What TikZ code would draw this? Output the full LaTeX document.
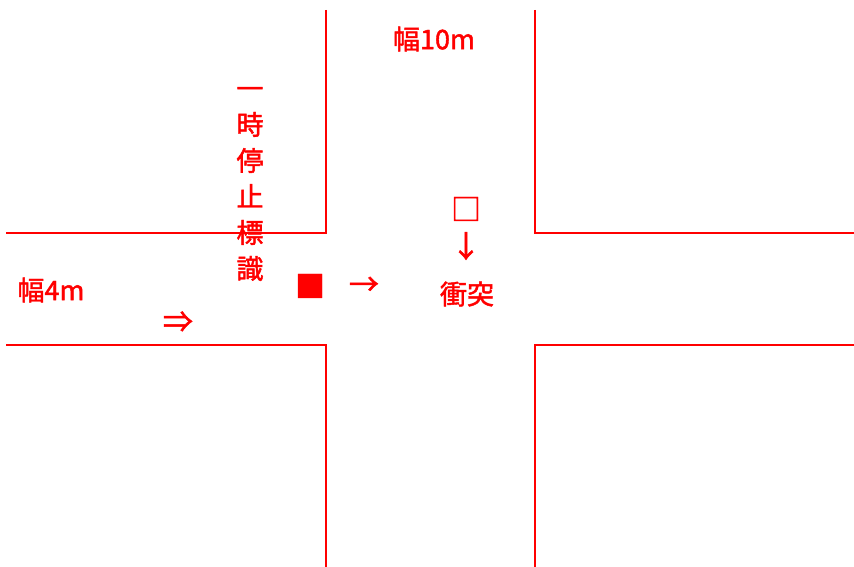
\documentclass[tikz,border=0pt]{standalone}
\usepackage{fontspec}
\newfontfamily\jp{Noto Sans CJK JP}[FakeBold=1.6]
\begin{document}
\begin{tikzpicture}[x=1pt,y=-1pt,
  road/.style={draw=red,line width=1.6pt},
  lbl/.style={text=red,inner sep=0pt,font=\jp\fontsize{27}{36}\selectfont},
  sym/.style={text=red,inner sep=0pt,font=\jp\fontsize{30}{36}\selectfont}]
\useasboundingbox (0,0) rectangle (854,567);
\fill[white] (0,0) rectangle (854,567);
% road edges
\draw[road] (326,10) -- (326,233) -- (6,233);
\draw[road] (535,10) -- (535,233) -- (854,233);
\draw[road] (6,345) -- (326,345) -- (326,567);
\draw[road] (854,345) -- (535,345) -- (535,567);
% labels
\node[lbl] (w10) at (434,39) {幅10m};
\node[lbl] (w4) at (51,290) {幅4m};
\node[lbl,align=center] (stop) at (250,184) {一\\時\\停\\止\\標\\識};
\node[sym] (carA) at (310,286) {■};
\node[sym] (arrA) at (364,286) {→};
\node[sym] (carB) at (466,209) {□};
\node[sym] (arrB) at (466,246) {↓};
\node[lbl] (crash) at (467,294) {衝突};
\node[sym] (dbl) at (178,322) {⇒};
\end{tikzpicture}
\end{document}
